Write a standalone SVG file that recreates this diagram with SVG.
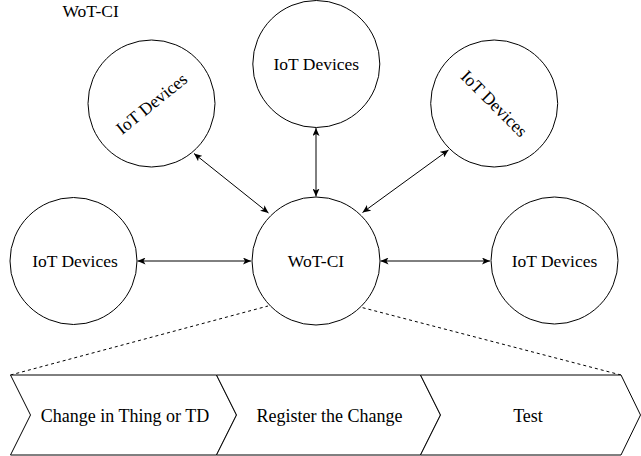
<svg xmlns="http://www.w3.org/2000/svg" width="641" height="456" viewBox="0 0 641 456">
  <style>
    .node circle { fill: #ffffff; stroke: #000000; stroke-width: 1; }
    .lbl { font-size: 17.5px; fill: #000000; text-anchor: middle; }
    .step { font-size: 18px; fill: #000000; text-anchor: middle; }
    .chev { fill: #ffffff; stroke: #000000; stroke-width: 1; stroke-linejoin: miter; }
    .conn { stroke: #000000; stroke-width: 1; fill: none; marker-start: url(#arr); marker-end: url(#arr); }
    .dash { stroke: #000000; stroke-width: 1; fill: none; stroke-dasharray: 3 3; }
  </style>
  <defs>
    <marker id="arr" viewBox="0 0 8 7" markerWidth="8" markerHeight="7" refX="8" refY="3.5" orient="auto-start-reverse" markerUnits="userSpaceOnUse">
      <path d="M0,0 L8,3.5 L0,7 L2,3.5 Z" fill="#000000"/>
    </marker>
  </defs>

  <g font-family="'Liberation Serif', 'DejaVu Serif', serif">
  <text class="lbl" x="62.5" y="17" text-anchor="start" style="text-anchor:start">WoT-CI</text>

  <g id="connectors">
    <line class="conn" x1="137.5" y1="261" x2="251" y2="261"/>
    <line class="conn" x1="380.5" y1="261" x2="490" y2="261"/>
    <line class="conn" x1="316" y1="128" x2="316" y2="196.5"/>
    <line class="conn" x1="194" y1="153.5" x2="268.5" y2="213"/>
    <line class="conn" x1="448.5" y1="150" x2="362.5" y2="212.5"/>
    <line class="dash" x1="10.5" y1="375" x2="268" y2="306"/>
    <line class="dash" x1="621" y1="375" x2="360" y2="307"/>
  </g>

  <g id="node-wotci" class="node">
    <circle cx="316" cy="261" r="64"/>
    <text class="lbl" x="316" y="267">WoT-CI</text>
  </g>
  <g id="node-iot-left" class="node">
    <circle cx="73.5" cy="261" r="63.5"/>
    <text class="lbl" x="75" y="267">IoT Devices</text>
  </g>
  <g id="node-iot-right" class="node">
    <circle cx="554.5" cy="260.5" r="63.5"/>
    <text class="lbl" x="554.5" y="267">IoT Devices</text>
  </g>
  <g id="node-iot-top" class="node">
    <circle cx="316.3" cy="64" r="63.5"/>
    <text class="lbl" x="316.3" y="70">IoT Devices</text>
  </g>
  <g id="node-iot-topleft" class="node">
    <circle cx="151.5" cy="103.5" r="63.5"/>
    <text class="lbl" x="151.5" y="109.5" transform="rotate(-39 151.5 103.5)">IoT Devices</text>
  </g>
  <g id="node-iot-topright" class="node">
    <circle cx="494.2" cy="103.5" r="63.5"/>
    <text class="lbl" x="494.2" y="109.5" transform="rotate(45 494.2 103.5)">IoT Devices</text>
  </g>

  <g id="step-change">
    <polygon class="chev" points="10.5,375 216.5,375 236.5,415 216.5,455 10.5,455 30.5,415"/>
    <text class="step" x="125" y="422">Change in Thing or TD</text>
  </g>
  <g id="step-register">
    <polygon class="chev" points="216.5,375 420.5,375 440.5,415 420.5,455 216.5,455 236.5,415"/>
    <text class="step" x="329.5" y="422">Register the Change</text>
  </g>
  <g id="step-test">
    <polygon class="chev" points="420.5,375 621,375 640.5,415 621,455 420.5,455 440.5,415"/>
    <text class="step" x="528" y="422">Test</text>
  </g>
  </g>
</svg>
